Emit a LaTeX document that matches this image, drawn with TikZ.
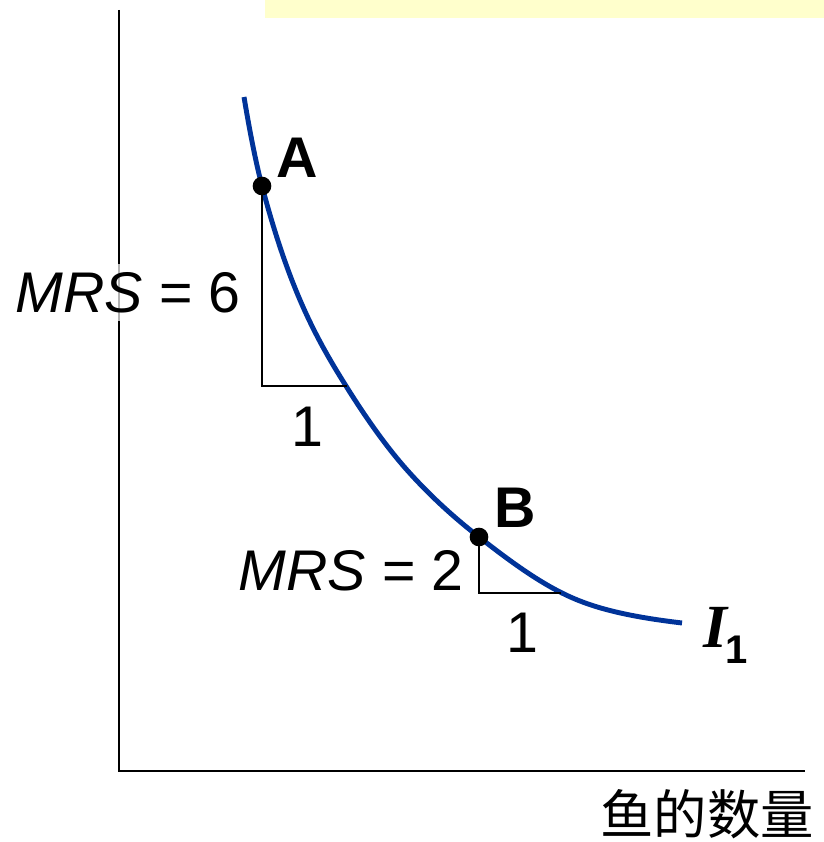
\documentclass[tikz,border=0pt]{standalone}
\usepackage{fontspec}
\setmainfont{Liberation Sans}
\newfontfamily\serifI{Liberation Serif}
\newfontfamily\cjk{Noto Sans CJK SC}
\usepackage{tikz}
\usetikzlibrary{positioning, calc}
\definecolor{curveblue}{HTML}{003399}
\definecolor{notebar}{HTML}{FFFFCC}

\begin{document}
\begin{tikzpicture}[
  x=0.75pt, y=-0.75pt,
  axis/.style={line width=2pt, black},
  icurve/.style={line width=3.7pt, color=curveblue},
  legline/.style={line width=1.5pt, black},
  pointdot/.style={circle, fill=black, inner sep=0pt, minimum size=14pt},
  lbl/.style={font=\fontsize{43}{48}\selectfont, inner sep=0pt},
  ptlbl/.style={font=\fontsize{43}{48}\selectfont\bfseries, inner sep=0pt}
]
  \useasboundingbox (0,0) rectangle (824,842);
  \fill[notebar] (265,0) rectangle (824,18);

  % axes
  \coordinate (origin) at (119,771);
  \coordinate (ytop) at (119,10);
  \coordinate (xend) at (805,771);
  \draw[axis] (ytop) -- (origin) -- (xend);

  % indifference curve
  \draw[icurve] (244,97)
    .. controls (250,133) and (256,163.2) .. (262,186)
    .. controls (290,292.4) and (318,341.2) .. (346,386)
    .. controls (366.33,418.5) and (386.67,447.2) .. (407,470)
    .. controls (431,496.9) and (455,518.3) .. (479,537)
    .. controls (506.67,558.6) and (534.33,579.2) .. (562,593)
    .. controls (577.33,600.7) and (592.67,606) .. (608,610)
    .. controls (632.67,616.4) and (657.33,620) .. (682,623);

  % triangles
  \coordinate (A) at (262,186);
  \coordinate (A1) at (262,386);
  \coordinate (A2) at (347,386);
  \coordinate (B) at (479,537);
  \coordinate (B1) at (479,593);
  \coordinate (B2) at (561,593);
  \draw[legline] (A) -- (A1) -- (A2);
  \draw[legline] (B) -- (B1) -- (B2);

  \node[pointdot] (dotA) at (A) {};
  \node[pointdot] (dotB) at (B) {};
  \node[ptlbl, anchor=base] (labA) at (297,177) {A};
  \node[ptlbl, anchor=base] (labB) at (515,527) {B};

  \node[lbl, anchor=base, fill=white, fill opacity=0.7, text opacity=1,
        inner sep=6pt] (mrs6) at (128,312) {\itshape MRS\upshape\ = 6};
  \node[lbl, anchor=base] (one6) at (307,446) {1};
  \node[lbl, anchor=base] (mrs2) at (351,590) {\itshape MRS\upshape\ = 2};
  \node[lbl, anchor=base] (one2) at (522,652) {1};

  \node[anchor=base west, inner sep=0pt] (ione) at (703,647)
    {\fontsize{46}{50}\selectfont\serifI\bfseries\itshape I\kern-1pt
     \raisebox{-12pt}{\fontsize{30}{34}\selectfont\normalfont\bfseries 1}};

  \node[anchor=center, inner sep=0pt, font=\fontsize{40}{44}\selectfont\cjk]
    (xlab) at (707,814) {鱼的数量};
\end{tikzpicture}
\end{document}
